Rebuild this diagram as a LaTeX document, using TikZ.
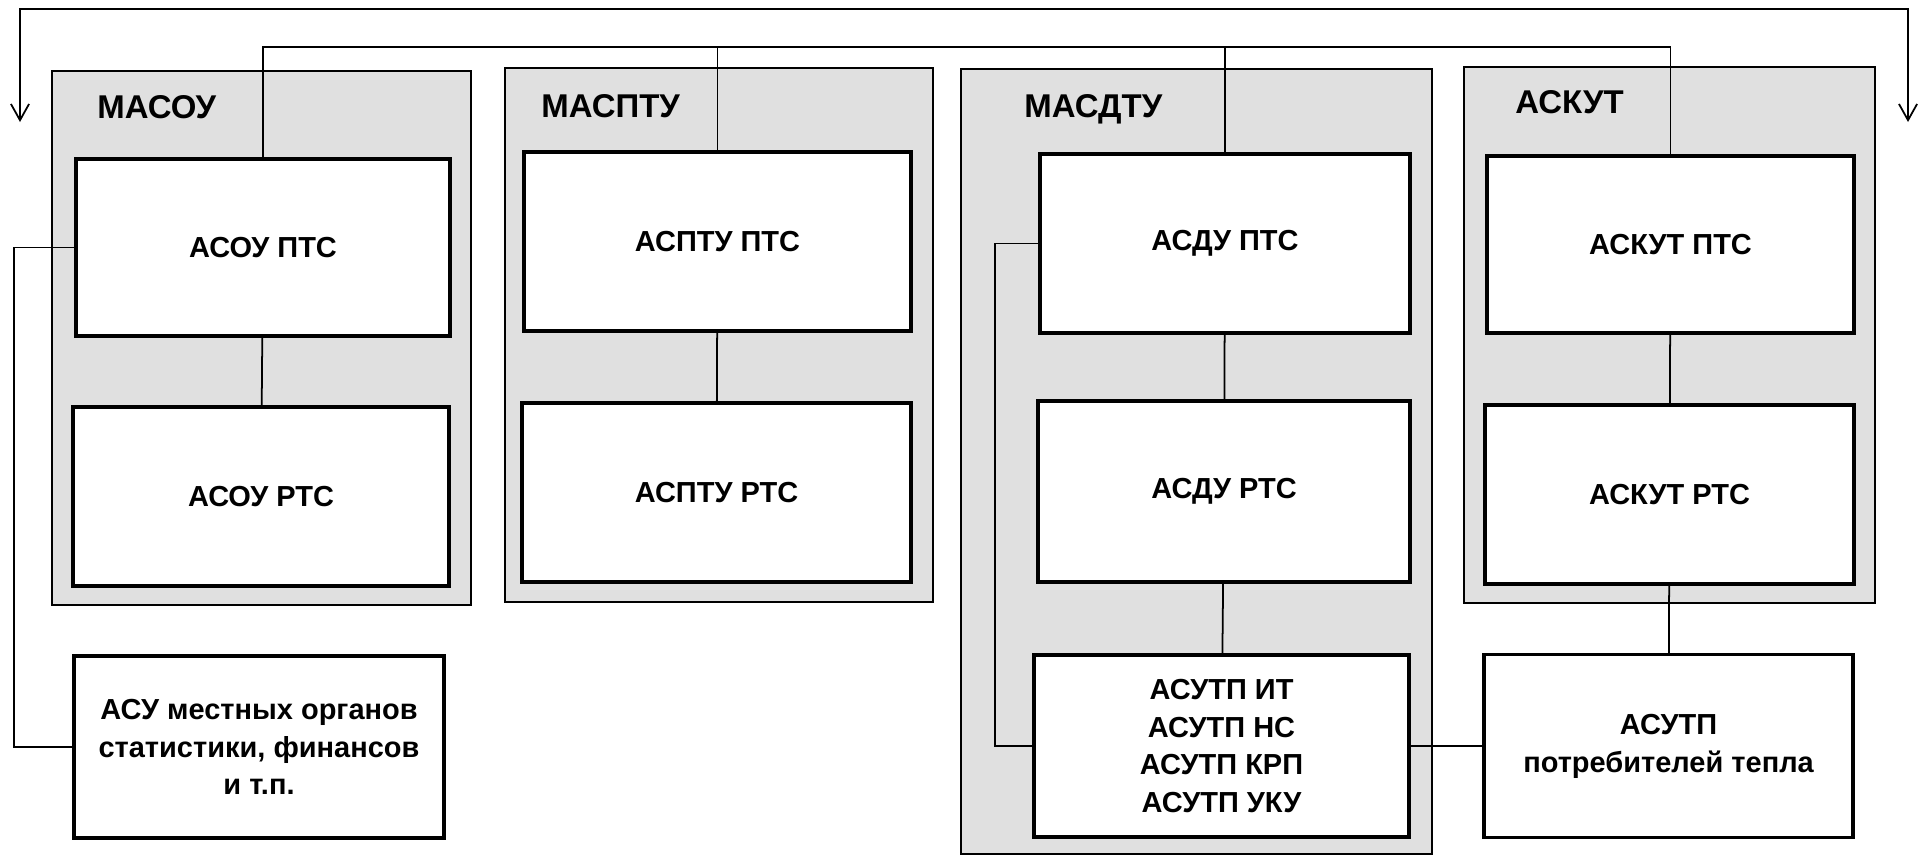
\documentclass[tikz,border=0pt]{standalone}
\usepackage{fontspec}
\setmainfont{Liberation Sans}
\usetikzlibrary{arrows.meta}
\tikzset{
    grp/.style={draw,fill=black!12,line width=0.9pt},
    blk/.style={draw,fill=white,line width=1.6pt,inner sep=0pt,align=center,
        font=\fontsize{13.2}{17.2}\selectfont\bfseries},
    sz/.style 2 args={minimum width=#1*0.016cm,minimum height=#2*0.016cm},
    glbl/.style={anchor=base west,inner sep=0pt,font=\fontsize{15}{18}\selectfont\bfseries},
    lnk/.style={line width=0.8pt}
}
\begin{document}
\begin{tikzpicture}[x=0.016cm,y=-0.016cm,>={Straight Barb[length=2.6mm,width=2.9mm]}]
        \useasboundingbox (0,0) rectangle (1927,856);
        % gruppi
        \draw [grp] (52,71) rectangle (471,605);\draw [grp] (505,68) rectangle (933,602);
        \draw [grp] (961,69) rectangle (1432,854);\draw [grp] (1464,67) rectangle (1875,603);
        % lettere dei gruppi
        \node [glbl] (lmasou) at (97,118) {МАСОУ};\node [glbl] (lmaspt) at (541,117) {МАСПТУ};
        \node [glbl] (lmasdt) at (1024,117) {МАСДТУ};\node [glbl] (laskut) at (1515,113) {АСКУТ};
        % blocchi
        \node [blk,sz={374}{177}] (asoupts) at (263,247.5) {АСОУ ПТС};
        \node [blk,sz={376}{179}] (asourts) at (261,496.5) {АСОУ РТС};
        \node [blk,sz={370}{182}] (asu) at (259,747) {АСУ местных органов\\статистики, финансов\\и т.п.};
        \node [blk,sz={387}{179}] (asptupts) at (717.5,241.5) {АСПТУ ПТС};
        \node [blk,sz={389}{179}] (aspturts) at (716.5,492.5) {АСПТУ РТС};
        \node [blk,sz={370}{179}] (asdupts) at (1225,243.5) {АСДУ ПТС};
        \node [blk,sz={372}{181}] (asdurts) at (1224,491.5) {АСДУ РТС};
        \node [blk,sz={375}{182}] (asutp) at (1221.5,746) {АСУТП ИТ\\АСУТП НС\\АСУТП КРП\\АСУТП УКУ};
        \node [blk,sz={367}{177}] (askutpts) at (1670.5,244.5) {АСКУТ ПТС};
        \node [blk,sz={369}{179}] (askutrts) at (1669.5,494.5) {АСКУТ РТС};
        \node [blk,sz={369}{183}] (asutppot) at (1668.5,746) {АСУТП\\потребителей тепла};
        % linea esterna con frecce
        \coordinate (arl) at (20,122);\coordinate (arr) at (1908,122);\coordinate (top) at (0,9);
        \draw [lnk,<->] (arl) -- (arl |- top) -- (arr |- top) -- (arr);
        % linea comune
        \coordinate (bus) at (0,47);
        \draw [lnk] (asoupts.north) -- (asoupts.north |- bus) -- (askutpts.north |- bus) -- (askutpts.north);
        \draw [lnk] (asptupts.north) -- (asptupts.north |- bus);\draw [lnk] (asdupts.north) -- (asdupts.north |- bus);
        % collegamenti
        \draw [lnk] (asoupts) -- (asourts);\draw [lnk] (asptupts) -- (aspturts);
        \draw [lnk] (asdupts) -- (asdurts);\draw [lnk] (asdurts) -- (asutp);
        \draw [lnk] (askutpts) -- (askutrts);\draw [lnk] (askutrts) -- (asutppot);
        \draw [lnk] (asoupts.west) -- ++(-60,0) |- (asu.west);
        \draw [lnk] (asdupts.west) -- ++(-43,0) |- (asutp.west);
        \draw [lnk] (asutp.east) -- (asutppot.west);
    \end{tikzpicture}
\end{document}
